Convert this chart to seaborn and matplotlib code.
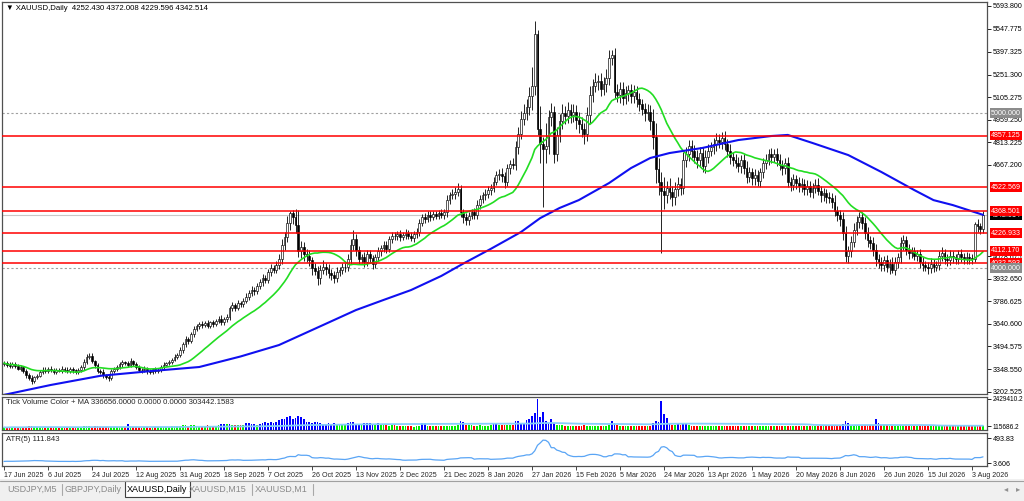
import numpy as np
import pandas as pd
import matplotlib
matplotlib.use('Agg')
import matplotlib.pyplot as plt
from matplotlib.patches import Rectangle
import seaborn as sns

# ---- data (XAUUSD daily) ----
# open of each bar is the previous close; first bar opens here
first_open = 3380.0
closes = [
    3388, 3375, 3368, 3382, 3366, 3352, 3360, 3338, 3312, 3290,   # 0
    3272, 3296, 3305, 3330, 3345, 3338, 3350, 3342, 3330, 3345,   # 10
    3338, 3352, 3345, 3335, 3348, 3340, 3330, 3342, 3360, 3395,   # 20
    3428, 3432, 3398, 3372, 3338, 3330, 3310, 3298, 3290, 3335,   # 30
    3348, 3362, 3380, 3392, 3388, 3375, 3398, 3382, 3360, 3345,   # 40
    3340, 3352, 3335, 3328, 3348, 3338, 3342, 3365, 3378, 3385,   # 50
    3395, 3410, 3425, 3440, 3470, 3510, 3540, 3530, 3575, 3610,   # 60
    3625, 3640, 3635, 3648, 3630, 3650, 3642, 3660, 3675, 3652,   # 70
    3670, 3685, 3740, 3760, 3745, 3775, 3770, 3790, 3815, 3840,   # 80
    3860, 3850, 3885, 3910, 3935, 3925, 3975, 4000, 3990, 4020,   # 90
    4060, 4150, 4200, 4290, 4355, 4330, 4280, 4110, 4135, 4095,   # 100
    4080, 4050, 4000, 3985, 3935, 3990, 4010, 3995, 3970, 3955,   # 110
    3940, 3975, 3990, 4005, 4010, 4060, 4150, 4190, 4120, 4060,   # 120
    4075, 4040, 4090, 4065, 4030, 4070, 4110, 4130, 4150, 4125,   # 130
    4190, 4210, 4205, 4220, 4200, 4215, 4230, 4210, 4195, 4220,   # 140
    4235, 4290, 4330, 4320, 4345, 4330, 4350, 4340, 4355, 4345,   # 150
    4360, 4440, 4470, 4480, 4495, 4510, 4360, 4330, 4310, 4340,   # 160
    4360, 4345, 4410, 4450, 4470, 4480, 4505, 4520, 4560, 4600,   # 170
    4610, 4595, 4560, 4645, 4675, 4670, 4780, 4870, 4965, 5000,   # 180
    5040, 5110, 5180, 5510, 4900, 4800, 4770, 4790, 4980, 5010,   # 190
    4740, 4860, 4950, 5000, 4985, 5020, 4990, 5010, 4960, 4930,   # 200
    4900, 4870, 4990, 5120, 5180, 5200, 5210, 5160, 5190, 5230,   # 210
    5360, 5380, 5140, 5120, 5160, 5100, 5130, 5150, 5110, 5140,   # 220
    5090, 5060, 5030, 5000, 5010, 4950, 4850, 4640, 4560, 4500,   # 230
    4470, 4520, 4490, 4460, 4510, 4545, 4520, 4700, 4740, 4790,   # 240
    4760, 4720, 4700, 4745, 4660, 4720, 4760, 4780, 4800, 4830,   # 250
    4815, 4840, 4800, 4760, 4720, 4700, 4680, 4660, 4700, 4650,   # 260
    4590, 4620, 4580, 4600, 4565, 4620, 4680, 4700, 4740, 4720,   # 270
    4740, 4700, 4670, 4650, 4680, 4560, 4540, 4575, 4550, 4530,   # 280
    4545, 4510, 4530, 4495, 4520, 4540, 4500, 4470, 4485, 4460,   # 290
    4455, 4430, 4370, 4345, 4320, 4230, 4080, 4110, 4170, 4250,   # 300
    4300, 4330, 4290, 4230, 4180, 4160, 4120, 4060, 4040, 4020,   # 310
    4050, 4010, 4030, 3990, 4040, 4070, 4160, 4180, 4120, 4100,   # 320
    4110, 4080, 4090, 4040, 4020, 4010, 4000, 4030, 4010, 4020,   # 330
    4080, 4100, 4060, 4050, 4080, 4070, 4060, 4090, 4070, 4060,   # 340
    4075, 4065, 4060, 4285, 4270, 4252.43, 4342.514,              # 350
]
# wick lengths above the body / below the body
upper_wick = [
    15, 12, 18, 10, 14, 16, 12, 10, 14, 12,
    18, 10, 15, 12, 20, 14, 10, 16, 12, 10,
    12, 15, 10, 14, 12, 16, 10, 12, 14, 20,
    15, 18, 22, 10, 14, 12, 16, 10, 12, 14,
    12, 16, 14, 18, 12, 15, 20, 10, 14, 12,
    10, 14, 12, 16, 10, 12, 14, 10, 16, 12,
    14, 12, 18, 15, 20, 16, 22, 18, 14, 20,
    16, 12, 18, 14, 20, 12, 16, 14, 18, 22,
    18, 20, 16, 22, 18, 20, 16, 18, 22, 20,
    24, 20, 18, 22, 26, 24, 20, 26, 22, 24,
    30, 40, 35, 45, 15, 20, 50, 96, 40, 35,
    30, 40, 25, 35, 30, 28, 40, 25, 30, 22,
    25, 30, 20, 28, 25, 35, 40, 55, 30, 25,
    20, 28, 25, 30, 22, 25, 30, 20, 28, 25,
    20, 25, 22, 18, 25, 20, 22, 18, 25, 20,
    22, 25, 20, 28, 22, 25, 20, 22, 18, 25,
    20, 30, 25, 35, 28, 40, 30, 25, 28, 22,
    25, 30, 28, 22, 25, 30, 28, 25, 30, 28,
    30, 35, 28, 30, 25, 35, 40, 45, 50, 60,
    55, 60, 120, 85, 30, 150, 50, 150, 45, 60,
    40, 50, 45, 60, 50, 55, 40, 50, 45, 50,
    45, 40, 50, 55, 45, 60, 40, 50, 45, 60,
    50, 30, 40, 50, 45, 40, 50, 35, 40, 45,
    40, 45, 35, 40, 50, 45, 80, 90, 70, 60,
    90, 45, 60, 40, 50, 45, 40, 50, 45, 40,
    40, 35, 45, 40, 35, 45, 40, 35, 40, 45,
    35, 40, 45, 35, 40, 30, 35, 40, 30, 35,
    40, 35, 30, 40, 35, 30, 35, 40, 30, 35,
    30, 35, 40, 30, 35, 40, 30, 35, 30, 40,
    35, 30, 40, 35, 30, 35, 40, 30, 35, 30,
    35, 30, 40, 35, 30, 40, 45, 35, 40, 45,
    40, 35, 30, 40, 35, 30, 40, 35, 30, 35,
    30, 35, 30, 40, 35, 30, 40, 35, 30, 35,
    30, 25, 30, 35, 30, 25, 30, 35, 30, 25,
    30, 35, 25, 30, 35, 30, 25, 30, 35, 30,
    30, 25, 30, 15, 30, 25, 29.494,
]
lower_wick = [
    12, 15, 10, 14, 12, 10, 15, 12, 18, 14,
    22, 15, 12, 10, 14, 12, 15, 10, 12, 14,
    10, 12, 14, 10, 12, 15, 10, 14, 12, 15,
    12, 15, 10, 14, 16, 12, 18, 15, 20, 12,
    14, 10, 12, 15, 10, 14, 12, 15, 10, 12,
    14, 10, 15, 12, 10, 14, 12, 10, 14, 12,
    12, 15, 10, 14, 12, 15, 18, 20, 14, 16,
    14, 18, 20, 15, 18, 14, 20, 16, 14, 20,
    18, 15, 20, 18, 22, 16, 20, 18, 15, 20,
    20, 22, 18, 20, 24, 22, 20, 24, 22, 20,
    25, 30, 35, 30, 40, 45, 50, 40, 45, 50,
    40, 35, 45, 30, 43, 35, 30, 40, 35, 30,
    35, 30, 28, 25, 30, 28, 30, 35, 40, 30,
    28, 30, 25, 30, 35, 28, 25, 30, 28, 25,
    22, 25, 20, 25, 22, 20, 25, 22, 20, 25,
    22, 25, 20, 25, 22, 28, 20, 25, 22, 20,
    25, 30, 28, 25, 30, 28, 30, 35, 28, 30,
    25, 30, 28, 25, 30, 28, 25, 30, 28, 25,
    30, 35, 40, 30, 35, 30, 35, 40, 35, 40,
    45, 50, 90, 60, 40, 120, 375, 90, 50, 60,
    60, 50, 45, 50, 55, 45, 50, 45, 60, 55,
    50, 70, 45, 50, 45, 40, 50, 45, 40, 50,
    45, 50, 40, 45, 50, 45, 40, 50, 45, 40,
    50, 45, 40, 50, 45, 60, 80, 90, 90, 402,
    90, 50, 45, 55, 50, 45, 50, 40, 45, 50,
    45, 40, 50, 45, 40, 45, 40, 35, 40, 45,
    40, 45, 35, 40, 45, 40, 35, 40, 45, 40,
    40, 35, 45, 40, 35, 40, 35, 40, 35, 40,
    35, 40, 35, 45, 40, 35, 40, 35, 40, 35,
    40, 35, 40, 35, 40, 35, 30, 40, 35, 40,
    35, 40, 35, 40, 45, 50, 40, 45, 40, 35,
    35, 40, 35, 40, 45, 35, 40, 45, 40, 35,
    40, 35, 45, 21, 35, 40, 35, 40, 35, 40,
    35, 30, 35, 40, 35, 30, 35, 30, 35, 30,
    30, 35, 30, 35, 30, 35, 30, 35, 30, 35,
    30, 35, 30, 20, 35, 30, 22.834,
]
# tick volume, thousands
volume_k = [
    210, 190, 230, 250, 200, 180, 220, 260, 240, 280,
    300, 260, 220, 240, 210, 190, 230, 200, 180, 220,
    200, 190, 210, 230, 180, 200, 210, 240, 260, 330,
    310, 280, 260, 290, 300, 250, 240, 270, 260, 230,
    220, 240, 250, 260, 230, 460, 240, 220, 210, 200,
    190, 210, 200, 180, 220, 210, 200, 230, 250, 240,
    260, 280, 300, 290, 330, 380, 360, 340, 390, 370,
    350, 330, 340, 320, 360, 310, 330, 350, 380, 470,
    450, 440, 480, 420, 390, 410, 380, 400, 520, 540,
    500, 480, 420, 460, 560, 600, 580, 620, 550, 640,
    780, 900, 850, 1000, 1060, 880, 920, 1080, 1050, 860,
    620, 600, 580, 640, 620, 560, 500, 480, 520, 450,
    540, 430, 410, 400, 390, 560, 600, 620, 500, 480,
    420, 560, 580, 550, 500, 420, 560, 400, 380, 360,
    340, 380, 360, 320, 300, 310, 280, 300, 290, 270,
    300, 320, 560, 540, 340, 310, 300, 320, 290, 280,
    310, 330, 350, 340, 320, 380, 700, 660, 420, 380,
    360, 340, 330, 360, 350, 340, 330, 360, 490, 470,
    420, 400, 380, 400, 410, 430, 720, 700, 450, 500,
    820, 830, 1070, 1310, 2429, 1000, 1430, 700, 560, 830,
    520, 420, 380, 360, 340, 320, 300, 330, 310, 320,
    340, 360, 300, 320, 340, 330, 300, 320, 310, 340,
    420, 700, 520, 380, 340, 320, 300, 310, 290, 300,
    310, 320, 300, 330, 340, 320, 560, 700, 600, 2235,
    1240, 950, 560, 400, 380, 490, 420, 560, 470, 380,
    340, 320, 300, 310, 330, 300, 290, 310, 300, 280,
    300, 290, 310, 320, 300, 290, 310, 300, 290, 320,
    340, 310, 300, 320, 290, 300, 310, 300, 280, 290,
    300, 320, 310, 290, 300, 330, 320, 300, 310, 290,
    300, 280, 290, 310, 300, 290, 320, 300, 310, 330,
    320, 340, 380, 400, 360, 480, 700, 560, 420, 380,
    350, 330, 340, 360, 380, 400, 420, 830, 560, 420,
    380, 360, 340, 330, 320, 340, 360, 320, 300, 310,
    300, 290, 310, 300, 280, 290, 300, 310, 290, 300,
    310, 320, 300, 290, 300, 280, 290, 310, 300, 290,
    300, 310, 320, 400, 420, 380, 336.656,
]
volume_blue_above = 440  # volumes above this are painted blue

# slow (blue) moving average, sampled along the chart
blue_ma_bars = [0, 17, 35, 53, 71, 86, 100, 116, 128, 138, 148, 159, 167, 177, 188, 195, 202,
                209, 220, 228, 235, 242, 254, 267, 279, 285, 294, 307, 319, 331, 338, 345, 356]
blue_ma_vals = [3182, 3246, 3305, 3335, 3362, 3430, 3504, 3633, 3730, 3795, 3859, 3950, 4030,
                4125, 4234, 4324, 4389, 4440, 4550, 4647, 4712, 4744, 4777, 4828, 4854, 4861,
                4809, 4731, 4622, 4505, 4440, 4408, 4345]

level_lines = [4857.125, 4522.569, 4368.501, 4226.933, 4112.170, 4032.593]
round_levels = [5000.0, 4000.0]
last_price = 4342.514
price_ticks = [5693.800, 5547.775, 5397.325, 5251.300, 5105.275, 4959.250, 4813.225, 4667.200,
               4078.675, 3932.650, 3786.625, 3640.600, 3494.575, 3348.550, 3202.525]
tab_names = ['USDJPY,M5', 'GBPJPY,Daily', 'XAUUSD,Daily', 'XAUUSD,M15', 'XAUUSD,M1']
tab_centers = [32, 93, 157, 218, 281]

# ---- build the frame ----
df = pd.DataFrame({'close': closes, 'uw': upper_wick, 'lw': lower_wick, 'vol': volume_k})
df['open'] = df['close'].shift(1).fillna(first_open)
df['high'] = df[['open', 'close']].max(axis=1) + df['uw']
df['low'] = df[['open', 'close']].min(axis=1) - df['lw']
n = len(df)
idx = np.arange(n)

days = pd.date_range('2025-06-17', periods=440, freq='D')
days = days[(days.dayofweek != 5) & (days != pd.Timestamp('2026-04-03'))][:n]
df['date'] = days

df['ma_fast'] = df['close'].rolling(20, min_periods=1).mean()
df['atr'] = (df['high'] - df['low']).rolling(5, min_periods=1).mean()
df['vol_ma'] = df['vol'].rolling(100, min_periods=1).mean()

# ---- figure ----
sns.set_style('white')
plt.rcParams['font.family'] = ['Liberation Sans', 'DejaVu Sans']
FS = 5.6      # panel captions
FS_AX = 5.1   # axis labels

W, H = 1024, 501
fig = plt.figure(figsize=(W / 100, H / 100), dpi=100, facecolor='white')


def px_axes(x0, y0, x1, y1):
    return fig.add_axes([x0 / W, 1 - y1 / H, (x1 - x0) / W, (y1 - y0) / H])


ax = px_axes(2, 2, 987, 394)
vax = px_axes(2, 397, 987, 430)
aax = px_axes(2, 433, 987, 466)

XLIM = (-2 / 2.75, 983 / 2.75)
for a in (ax, vax, aax):
    a.set_xlim(*XLIM)
    a.set_facecolor('white')
    for s in a.spines.values():
        s.set_color('#505050')
        s.set_linewidth(0.9)
    a.yaxis.tick_right()
    a.tick_params(axis='y', direction='out', length=3, width=0.6, pad=1.2,
                  labelsize=FS_AX, colors='black')

# main price panel
ax.set_ylim(3187.7, 5719.6)
ax.axhline(last_price, color='#c8c8c8', lw=0.8, zorder=1)
for v in round_levels:
    ax.axhline(v, color='#a0a0a0', lw=0.8, ls=(0, (2, 2)), zorder=1)

up = (df['close'] >= df['open']).values
body_lo = df[['open', 'close']].min(axis=1).values
body_h = np.maximum((df['close'] - df['open']).abs().values, 3)
ax.vlines(idx, df['low'], df['high'], color='black', linewidth=0.6, zorder=3)
ax.bar(idx[up], body_h[up], bottom=body_lo[up], width=0.72, color='white',
       edgecolor='black', linewidth=0.45, zorder=4)
ax.bar(idx[~up], body_h[~up], bottom=body_lo[~up], width=0.72, color='black',
       edgecolor='black', linewidth=0.45, zorder=4)

sns.lineplot(x=idx, y=df['ma_fast'].values, ax=ax, color='#22dd22', linewidth=1.2, zorder=5)
sns.lineplot(x=blue_ma_bars, y=blue_ma_vals, ax=ax, color='#1010f0', linewidth=1.5, zorder=5)
for v in level_lines:
    ax.axhline(v, color='#ff0000', lw=1.1, zorder=6)

ax.set_xticks([])
ax.set_yticks(price_ticks)
ax.set_yticklabels([f'{t:.3f}' for t in price_ticks])
ax.text(0.004, 0.992, '\u25bc XAUUSD,Daily  4252.430 4372.008 4229.596 4342.514',
        transform=ax.transAxes, ha='left', va='top', fontsize=FS, color='black')


def price_box(a, y, txt, fc):
    a.text(1.004, y, txt, transform=a.get_yaxis_transform(), ha='left', va='center',
           fontsize=FS_AX, color='white', zorder=10, clip_on=False,
           bbox=dict(boxstyle='square,pad=0.2', fc=fc, ec='none'))


price_box(ax, last_price, f'{last_price:.3f}', 'black')
for v in level_lines:
    price_box(ax, v, f'{v:.3f}', '#ff0000')
for v in round_levels:
    price_box(ax, v, f'{v:.3f}', '#8c8c8c')

# volume panel
vcol = np.where(df['vol'] > volume_blue_above, '#0000ff',
                np.where(up, '#00ee00', '#ff0000'))
vax.bar(idx, df['vol'], width=0.72, color=vcol, linewidth=0, zorder=3)
sns.lineplot(x=idx, y=df['vol_ma'].values, ax=vax, color='#87cefa', linewidth=1.3, zorder=4)
vax.set_ylim(0, 2586)
vax.set_xticks([])
vax.set_yticks([2429.4102, 310])
vax.set_yticklabels(['2429410.2', '115686.2'])
vax.tick_params(axis='y', labelsize=4.7, pad=1.0)
vax.text(0.004, 0.93, 'Tick Volume Color + MA 336656.0000 0.0000 0.0000 303442.1583',
         transform=vax.transAxes, ha='left', va='top', fontsize=FS)

# ATR panel
sns.lineplot(x=idx, y=df['atr'].values, ax=aax, color='#5aa5f5', linewidth=0.9, zorder=3)
aax.set_ylim(-55.2, 591.9)
aax.set_yticks([493.83, 3.606])
aax.set_yticklabels(['493.83', '3.606'])
aax.text(0.004, 0.9, 'ATR(5) 111.843', transform=aax.transAxes, ha='left', va='top', fontsize=FS)

tick_pos = list(range(0, n, 16))
aax.set_xticks(tick_pos)
aax.set_xticklabels([f'{d.day} {d:%b %Y}' for d in df['date'].iloc[tick_pos]],
                    ha='left', fontsize=FS_AX)
aax.tick_params(axis='x', direction='out', length=3, width=0.6, pad=1.5, bottom=True)

# tab strip at the bottom
tab = px_axes(0, 479, 1024, 501)
tab.set_xlim(0, W)
tab.set_ylim(501, 479)
tab.axis('off')
tab.add_patch(Rectangle((0, 479), W, 22, fc='#f0f0f0', ec='none'))
tab.plot([0, W], [480.5, 480.5], color='#a0a0a0', lw=0.8)
tab.add_patch(Rectangle((125, 481), 65, 16, fc='white', ec='#404040', lw=0.8))
for name, cx in zip(tab_names, tab_centers):
    active = name == 'XAUUSD,Daily'
    tab.text(cx, 489.5, name, ha='center', va='center', fontsize=6.5,
             color='black' if active else '#8a8a8a')
for sx in [62, 252, 313]:
    tab.plot([sx, sx], [484, 495], color='#a8a8a8', lw=0.8)
tab.text(1006, 489.5, '\u25c2', ha='center', va='center', fontsize=6, color='#909090')
tab.text(1018, 489.5, '\u25b8', ha='center', va='center', fontsize=6, color='#909090')

fig.savefig('out.png', dpi=100, facecolor='white')
